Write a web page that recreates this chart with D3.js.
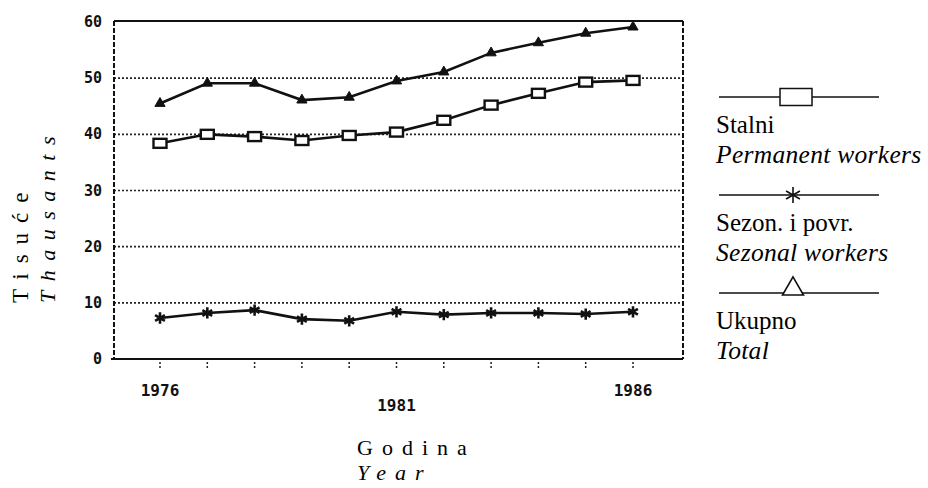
<!DOCTYPE html>
<html>
<head>
<meta charset="utf-8">
<script src="https://cdn.jsdelivr.net/npm/d3@7"></script>
<style>
  body { margin: 0; background: #fff; }
  svg { display: block; }
  .tick-lbl { font-family: "DejaVu Sans Mono", monospace; font-weight: bold; font-size: 15px; fill: #111; }
</style>
</head>
<body>
<div id="chart"></div>
<script>
// Data (thousands of workers)
var years = [1976, 1977, 1978, 1979, 1980, 1981, 1982, 1983, 1984, 1985, 1986];
var stalni = [38.4, 40.0, 39.6, 38.9, 39.8, 40.4, 42.5, 45.2, 47.3, 49.3, 49.6];
var sezonski = [7.3, 8.2, 8.7, 7.1, 6.8, 8.4, 7.9, 8.2, 8.2, 8.0, 8.4];
var ukupno = [45.5, 49.1, 49.1, 46.1, 46.6, 49.5, 51.1, 54.5, 56.3, 58.0, 59.1];
var yTicks = [0, 10, 20, 30, 40, 50, 60];
var xLabels = [1976, 1981, 1986];
var legendItems = [
    { name: 'Stalni', en: 'Permanent workers', mark: 'square' },
    { name: 'Sezon. i povr.', en: 'Sezonal workers', mark: 'asterisk' },
    { name: 'Ukupno', en: 'Total', mark: 'triangle' }
];

var width = 928, height = 488;
var plot = { left: 114, right: 683, top: 21, bottom: 359 };
var serifFont = '"Liberation Serif", "DejaVu Serif", "Times New Roman", serif';

var xScale = d3.scaleLinear().domain([1976, 1986]).range([160, 633]);
var yScale = d3.scaleLinear().domain([0, 60]).range([plot.bottom, 22]);

var svg = d3.select('#chart').append('svg')
    .attr('width', width)
    .attr('height', height);

// gridlines
svg.append('g').selectAll('line')
    .data(yTicks.filter(function(d) { return d > 0 && d < 60; }))
    .enter().append('line')
    .attr('x1', plot.left).attr('x2', plot.right)
    .attr('y1', function(d) { return yScale(d); })
    .attr('y2', function(d) { return yScale(d); })
    .attr('stroke', '#222')
    .attr('stroke-width', 1.6)
    .attr('stroke-dasharray', '2,2');

// frame: solid top and bottom, dashed sides
svg.append('line')
    .attr('x1', plot.left).attr('x2', plot.right)
    .attr('y1', plot.top).attr('y2', plot.top)
    .attr('stroke', '#111').attr('stroke-width', 2);
svg.append('line')
    .attr('x1', plot.left - 3).attr('x2', plot.right)
    .attr('y1', plot.bottom).attr('y2', plot.bottom)
    .attr('stroke', '#111').attr('stroke-width', 2.2);
[plot.left, plot.right].forEach(function(x) {
    svg.append('line')
        .attr('x1', x).attr('x2', x)
        .attr('y1', plot.top).attr('y2', plot.bottom)
        .attr('stroke', '#111').attr('stroke-width', 2)
        .attr('stroke-dasharray', '5,2');
});

// y axis labels
svg.append('g').selectAll('text')
    .data(yTicks)
    .enter().append('text')
    .attr('class', 'tick-lbl')
    .attr('x', plot.left - 12)
    .attr('y', function(d) { return yScale(d) + 5; })
    .attr('text-anchor', 'end')
    .text(function(d) { return d; });

// x axis tick marks
svg.append('g').selectAll('line')
    .data(years)
    .enter().append('line')
    .attr('x1', function(d) { return xScale(d); })
    .attr('x2', function(d) { return xScale(d); })
    .attr('y1', plot.bottom + 3).attr('y2', plot.bottom + 10)
    .attr('stroke', '#222').attr('stroke-width', 1.5)
    .attr('stroke-dasharray', '2,2');

// x axis labels (middle one sits lower, as in the original)
svg.append('g').selectAll('text')
    .data(xLabels)
    .enter().append('text')
    .attr('class', 'tick-lbl')
    .style('font-size', '16px')
    .attr('x', function(d) { return xScale(d); })
    .attr('y', function(d, i) { return i === 1 ? 411 : 396; })
    .attr('text-anchor', 'middle')
    .text(function(d) { return d; });

// axis titles
svg.append('text')
    .attr('x', 357).attr('y', 455)
    .style('font-family', serifFont).style('font-size', '22px').style('letter-spacing', '9px')
    .text('Godina');
svg.append('text')
    .attr('x', 357).attr('y', 480)
    .style('font-family', serifFont).style('font-size', '22px').style('letter-spacing', '9px').style('font-style', 'italic')
    .text('Year');
svg.append('text')
    .attr('transform', 'translate(28,303) rotate(-90)')
    .style('font-family', serifFont).style('font-size', '23px').style('letter-spacing', '10px')
    .text('Tisuće');
svg.append('text')
    .attr('transform', 'translate(55,303) rotate(-90)')
    .style('font-family', serifFont).style('font-size', '22px').style('letter-spacing', '9.5px').style('font-style', 'italic')
    .text('Thausants');

// series lines
var line = d3.line()
    .x(function(d, i) { return xScale(years[i]); })
    .y(function(d) { return yScale(d); });

var series = [
    { values: ukupno, mark: 'triangle' },
    { values: stalni, mark: 'square' },
    { values: sezonski, mark: 'asterisk' }
];

var gSeries = svg.append('g');
series.forEach(function(s) {
    gSeries.append('path')
        .datum(s.values)
        .attr('d', line)
        .attr('fill', 'none')
        .attr('stroke', '#111')
        .attr('stroke-width', 2.6);

    var marks = gSeries.append('g').selectAll('g')
        .data(s.values)
        .enter().append('g')
        .attr('transform', function(d, i) {
            return 'translate(' + xScale(years[i]) + ',' + yScale(d) + ')';
        });
    drawMark(marks, s.mark, false);
});

function drawMark(sel, mark, big) {
    if (mark === 'square') {
        var w = big ? 32 : 13, h = big ? 17 : 9;
        sel.append('rect')
            .attr('x', -w / 2).attr('y', -h / 2)
            .attr('width', w).attr('height', h)
            .attr('fill', '#fff')
            .attr('stroke', '#111')
            .attr('stroke-width', big ? 1.5 : 2.4);
    } else if (mark === 'asterisk') {
        sel.append('path')
            .attr('d', d3.symbol().type(d3.symbolAsterisk).size(big ? 180 : 90))
            .attr('fill', 'none')
            .attr('stroke', '#111')
            .attr('stroke-width', big ? 1.6 : 2.6);
    } else {
        sel.append('path')
            .attr('d', d3.symbol().type(d3.symbolTriangle).size(big ? 190 : 45))
            .attr('transform', big ? 'translate(0,-4)' : null)
            .attr('fill', big ? '#fff' : '#111')
            .attr('stroke', '#111')
            .attr('stroke-width', big ? 1.6 : 1);
    }
}

// legend
var legendTop = [97, 195, 293];
var lg = svg.append('g').selectAll('g')
    .data(legendItems)
    .enter().append('g')
    .attr('transform', function(d, i) { return 'translate(0,' + legendTop[i] + ')'; });

lg.append('line')
    .attr('x1', 719).attr('x2', 879)
    .attr('y1', 0).attr('y2', 0)
    .attr('stroke', '#111').attr('stroke-width', 1.5);

lg.each(function(d) {
    var m = d3.select(this).append('g')
        .attr('transform', 'translate(' + (d.mark === 'square' ? 796 : 793) + ',0)');
    drawMark(m, d.mark, true);
});

lg.append('text')
    .attr('x', 716).attr('y', 36)
    .style('font-family', serifFont).style('font-size', '25px')
    .text(function(d) { return d.name; });
lg.append('text')
    .attr('x', 716).attr('y', 66)
    .style('font-family', serifFont).style('font-size', '25.5px').style('font-style', 'italic')
    .style('letter-spacing', '0.3px')
    .text(function(d) { return d.en; });
</script>
</body>
</html>
